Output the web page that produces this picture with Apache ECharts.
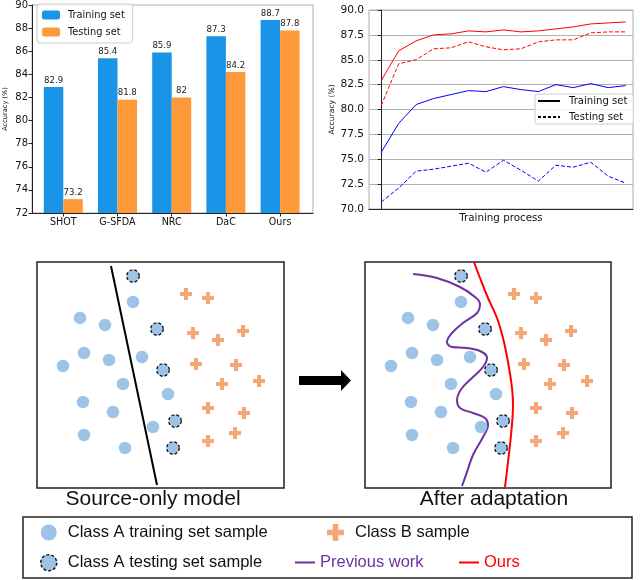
<!DOCTYPE html>
<html>
<head>
<meta charset="utf-8">
<script src="https://cdn.jsdelivr.net/npm/echarts@6/dist/echarts.min.js"></script>
<style>
  html, body { margin: 0; padding: 0; background: #fff; }
  #chart { width: 640px; height: 580px; }
</style>
</head>
<body>
<div id="chart"></div>
<script>
// bar chart (accuracy of each method)
const methods = ["SHOT", "G-SFDA", "NRC", "DaC", "Ours"];
const trainAcc = [82.9, 85.4, 85.9, 87.3, 88.7];
const testAcc = [73.2, 81.8, 82, 84.2, 87.8];

// training curves, 15 checkpoints
const oursTrain = [82.9, 85.9, 86.9, 87.5, 87.6, 87.9, 87.8, 88.0, 87.8, 87.9, 88.1, 88.3, 88.6, 88.7, 88.8];
const oursTest = [80.4, 84.6, 85.0, 86.1, 86.2, 86.8, 86.3, 86.0, 86.1, 86.8, 87.0, 87.0, 87.7, 87.8, 87.8];
const prevTrain = [75.7, 78.6, 80.5, 81.1, 81.5, 81.9, 81.8, 82.3, 82.0, 81.8, 82.5, 82.2, 82.6, 82.2, 82.4];
const prevTest = [70.7, 72.1, 73.8, 74.0, 74.3, 74.6, 73.7, 74.9, 73.9, 72.8, 74.4, 74.2, 74.7, 73.3, 72.6];

// toy illustration, positions inside each panel (x right, y down)
const classATrain = [[96, 40], [43, 56], [68, 63], [47, 91], [26, 104], [72, 98], [105, 95],
  [86, 122], [46, 140], [76, 150], [131, 132], [116, 165], [47, 173], [88, 186]];
const classATest = [[96, 14], [120, 67], [126, 108], [138, 159], [136, 186]];
const classB = [[149, 32], [171, 36], [156, 71], [181, 78], [206, 69], [159, 102], [199, 103],
  [185, 122], [222, 119], [171, 146], [207, 151], [198, 171], [171, 179]];
const sourceBoundary = [[74, 4], [120, 223]];
const previousWork = [[48, 12], [72, 16], [95, 25], [110, 35], [115, 42], [112, 51], [98, 61],
  [87, 71], [82, 80], [87, 85], [102, 86], [117, 90], [122, 96], [118, 105], [108, 115],
  [97, 126], [92, 138], [95, 146], [108, 151], [120, 156], [123, 163], [118, 175],
  [108, 193], [102, 210], [97, 224]];
const oursBoundary = [[109, 0], [115, 16], [123, 36], [132, 56], [138, 76], [143, 100],
  [147, 126], [148, 143], [146, 173], [143, 200], [140, 225]];

const DV = "DejaVu Sans";
const AR = "Liberation Sans";
const LIGHT_BLUE = "#9dc3e6";
const LIGHT_ORANGE = "#f4a877";
const PURPLE = "#7030a0";
const PLUS = "path://M4,0H8V4H12V8H8V12H4V8H0V4H4Z";

const idx = arr => arr.map((v, i) => [i, v]);

function panelAxes(grid, w) {
  return {
    x: { type: "value", gridIndex: grid, min: 0, max: w, show: false },
    y: { type: "value", gridIndex: grid, min: 0, max: 226, inverse: true, show: false }
  };
}
const pL = panelAxes(3, 247);
const pR = panelAxes(4, 246);

function samples(xi, yi) {
  return [
    { name: "Class A training set sample", type: "scatter", xAxisIndex: xi, yAxisIndex: yi,
      data: classATrain, symbol: "circle", symbolSize: 12.5,
      itemStyle: { color: LIGHT_BLUE, opacity: 1 } },
    { name: "Class A testing set sample", type: "scatter", xAxisIndex: xi, yAxisIndex: yi,
      data: classATest, symbol: "circle", symbolSize: 12.5,
      itemStyle: { color: LIGHT_BLUE, borderColor: "#111", borderWidth: 1.3, borderType: [3, 2], opacity: 1 } },
    { name: "Class B sample", type: "scatter", xAxisIndex: xi, yAxisIndex: yi,
      data: classB, symbol: PLUS, symbolSize: 12,
      itemStyle: { color: LIGHT_ORANGE, opacity: 1 } }
  ];
}

const lineOnly = { opacity: 0 };

const chart = echarts.init(document.getElementById("chart"), null, { renderer: "canvas" });

const option = {
  animation: false,
  backgroundColor: "#fff",
  grid: [
    { left: 32, top: 5, width: 281, height: 208, show: true, borderColor: "#999", borderWidth: 0.8 },
    { left: 36.2, top: 5, width: 271, height: 208 },
    { left: 369, top: 10, width: 264, height: 199, show: true, borderColor: "#999", borderWidth: 0.8 },
    { left: 37, top: 262, width: 247, height: 226, show: true, borderColor: "#222", borderWidth: 1.5, backgroundColor: "#fff" },
    { left: 365, top: 262, width: 246, height: 226, show: true, borderColor: "#222", borderWidth: 1.5, backgroundColor: "#fff" }
  ],
  xAxis: [
    { type: "value", gridIndex: 0, min: 0, max: 1,
      axisLine: { show: true, lineStyle: { color: "#222", width: 1 } },
      axisTick: { show: false }, axisLabel: { show: false }, splitLine: { show: false } },
    { type: "category", gridIndex: 1, data: methods,
      axisLine: { show: false },
      axisTick: { show: true, alignWithLabel: true, length: 3.5, lineStyle: { color: "#222" } },
      axisLabel: { fontFamily: DV, fontSize: 9.6, color: "#111", margin: 4 } },
    { type: "value", gridIndex: 2, min: -0.7, max: 14.42,
      axisLine: { show: true, lineStyle: { color: "#222", width: 1 } },
      axisTick: { show: false }, axisLabel: { show: false }, splitLine: { show: false },
      name: "Training process", nameLocation: "middle", nameGap: 4,
      nameTextStyle: { fontFamily: DV, fontSize: 10.3, color: "#111" } },
    pL.x, pR.x
  ],
  yAxis: [
    { type: "value", gridIndex: 0, min: 72, max: 90, interval: 2,
      axisLine: { show: true, lineStyle: { color: "#222", width: 1 } },
      axisTick: { show: true, length: 3.5, lineStyle: { color: "#222" } },
      axisLabel: { fontFamily: DV, fontSize: 10, color: "#111", margin: 4 },
      splitLine: { show: false },
      name: "Accuracy (%)", nameLocation: "middle", nameGap: 23,
      nameTextStyle: { fontFamily: DV, fontSize: 6.6, color: "#111" } },
    { type: "value", gridIndex: 1, min: 72, max: 90, show: false },
    { type: "value", gridIndex: 2, min: 70, max: 90, interval: 2.5,
      axisLine: { show: true, lineStyle: { color: "#222", width: 1 } },
      axisTick: { show: true, length: 3.5, lineStyle: { color: "#222" } },
      axisLabel: { fontFamily: DV, fontSize: 10.6, color: "#111", margin: 5,
        formatter: v => v.toFixed(1) },
      splitLine: { show: true, lineStyle: { color: "#b0b0b0", width: 1 } },
      name: "Accuracy (%)", nameLocation: "middle", nameGap: 33,
      nameTextStyle: { fontFamily: DV, fontSize: 7.6, color: "#111" } },
    pL.y, pR.y
  ],
  legend: [
    { data: ["Training set", "Testing set"], selectedMode: false, orient: "vertical",
      left: 37, top: 4, itemWidth: 18, itemHeight: 9, itemGap: 5,
      padding: [5, 8, 5, 5], borderColor: "#ccc", borderWidth: 1, borderRadius: 3,
      backgroundColor: "rgba(255,255,255,0.85)",
      textStyle: { fontFamily: DV, fontSize: 9.8, color: "#111", lineHeight: 12, padding: [0, 0, 0, 3] } },
    { data: ["Training set ", "Testing set "], selectedMode: false, orient: "vertical",
      left: 535, top: 94, itemWidth: 22, itemHeight: 12, itemGap: 4,
      padding: [1, 6, 1, 2], borderColor: "#ccc", borderWidth: 1, borderRadius: 3,
      backgroundColor: "rgba(255,255,255,0.85)",
      itemStyle: lineOnly,
      formatter: n => n.trim(),
      textStyle: { fontFamily: DV, fontSize: 10.1, color: "#111", lineHeight: 12, padding: [0, 0, 0, 4] } },
    { data: [
        { name: "Class A training set sample", icon: "circle" },
        { name: "Class A testing set sample", icon: "circle",
          itemStyle: { borderColor: "#111", borderWidth: 1.5, borderType: [3, 2] } }
      ],
      selectedMode: false, orient: "vertical", left: 40, top: 524, padding: 0,
      itemWidth: 16, itemHeight: 17, itemGap: 13,
      textStyle: { fontFamily: AR, fontSize: 16.5, color: "#111", lineHeight: 17, padding: [0, 0, 0, 6] } },
    { data: [{ name: "Class B sample", icon: PLUS }], selectedMode: false,
      left: 327, top: 524, padding: 0, itemWidth: 17, itemHeight: 17,
      textStyle: { fontFamily: AR, fontSize: 16.5, color: "#111", lineHeight: 17, padding: [0, 0, 0, 6] } },
    { data: ["Previous work"], selectedMode: false, left: 294, top: 554, padding: 0,
      itemWidth: 20, itemHeight: 17, itemStyle: lineOnly,
      textStyle: { fontFamily: AR, fontSize: 16.5, color: PURPLE, lineHeight: 17 } },
    { data: ["Ours"], selectedMode: false, left: 458, top: 554, padding: 0,
      itemWidth: 20, itemHeight: 17, itemStyle: lineOnly,
      textStyle: { fontFamily: AR, fontSize: 16.5, color: "#ff0000", lineHeight: 17 } }
  ],
  graphic: [
    { type: "rect", shape: { x: 23, y: 517, width: 609, height: 61 }, z: -1,
      style: { fill: "#fff", stroke: "#222", lineWidth: 1.5 } },
    { type: "text", x: 153, y: 499, z: 10,
      style: { text: "Source-only model", fontFamily: AR, fontSize: 21, fill: "#111",
        align: "center", verticalAlign: "middle" } },
    { type: "text", x: 494, y: 499, z: 10,
      style: { text: "After adaptation", fontFamily: AR, fontSize: 21, fill: "#111",
        align: "center", verticalAlign: "middle" } },
    { type: "polygon", z: 10,
      shape: { points: [[299, 376], [341, 376], [341, 370], [351, 380.5], [341, 391], [341, 385], [299, 385]] },
      style: { fill: "#000" } }
  ],
  series: [
    { name: "Training set", type: "bar", xAxisIndex: 1, yAxisIndex: 1, data: trainAcc,
      barWidth: 19.5, barGap: "0%", itemStyle: { color: "#1a94e6" },
      label: { show: true, position: "top", distance: 2, fontFamily: DV, fontSize: 8.6, color: "#222" } },
    { name: "Testing set", type: "bar", xAxisIndex: 1, yAxisIndex: 1, data: testAcc,
      barWidth: 19.5, barGap: "0%", itemStyle: { color: "#fe9a3a" },
      label: { show: true, position: "top", distance: 2, fontFamily: DV, fontSize: 8.6, color: "#222" } },

    { name: "Ours train", type: "line", xAxisIndex: 2, yAxisIndex: 2, data: idx(oursTrain),
      symbol: "none", lineStyle: { color: "#ff0000", width: 1 }, itemStyle: { color: "#ff0000" } },
    { name: "Ours test", type: "line", xAxisIndex: 2, yAxisIndex: 2, data: idx(oursTest),
      symbol: "none", lineStyle: { color: "#ff0000", width: 1, type: [4, 2] }, itemStyle: { color: "#ff0000" } },
    { name: "Prev train", type: "line", xAxisIndex: 2, yAxisIndex: 2, data: idx(prevTrain),
      symbol: "none", lineStyle: { color: "#0000ff", width: 1 }, itemStyle: { color: "#0000ff" } },
    { name: "Prev test", type: "line", xAxisIndex: 2, yAxisIndex: 2, data: idx(prevTest),
      symbol: "none", lineStyle: { color: "#0000ff", width: 1, type: [4, 2] }, itemStyle: { color: "#0000ff" } },
    { name: "Training set ", type: "line", xAxisIndex: 2, yAxisIndex: 2, data: [],
      symbol: "none", lineStyle: { color: "#000", width: 1.2 }, itemStyle: { color: "#000" } },
    { name: "Testing set ", type: "line", xAxisIndex: 2, yAxisIndex: 2, data: [],
      symbol: "none", lineStyle: { color: "#000", width: 1.2, type: [3, 2] }, itemStyle: { color: "#000" } },

    { name: "Source-only boundary", type: "line", xAxisIndex: 3, yAxisIndex: 3, data: sourceBoundary,
      symbol: "none", lineStyle: { color: "#000", width: 2 }, z: 1 },
    ...samples(3, 3),

    { name: "Previous work", type: "line", xAxisIndex: 4, yAxisIndex: 4, data: previousWork,
      smooth: 0.4, symbol: "none", lineStyle: { color: PURPLE, width: 2 }, itemStyle: { color: PURPLE }, z: 1 },
    { name: "Ours", type: "line", xAxisIndex: 4, yAxisIndex: 4, data: oursBoundary,
      smooth: 0.4, symbol: "none", lineStyle: { color: "#ff0000", width: 2 }, itemStyle: { color: "#ff0000" }, z: 1 },
    ...samples(4, 4)
  ]
};

chart.setOption(option);
window.addEventListener("resize", chart.resize);
</script>
</body>
</html>
